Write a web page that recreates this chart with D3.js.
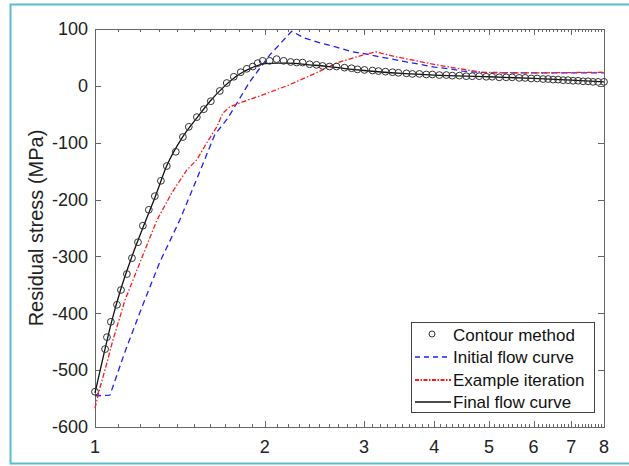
<!DOCTYPE html>
<html>
<head>
<meta charset="utf-8">
<script src="https://cdn.jsdelivr.net/npm/d3@7"></script>
<style>
  body { margin: 0; background: #fff; }
  svg { display: block; font-family: "Liberation Sans", Arial, sans-serif; }
</style>
</head>
<body>
<svg id="chart" width="629" height="466"></svg>
<script>
// contour method measurements
const contourX = [1, 1.042, 1.05, 1.067, 1.094, 1.112, 1.139, 1.163, 1.192, 1.216, 1.246, 1.277,
  1.309, 1.341, 1.391, 1.432, 1.467, 1.516, 1.56, 1.605, 1.665, 1.713, 1.763, 1.814, 1.859,
  1.905, 1.944, 1.984, 2.041, 2.1, 2.161, 2.224, 2.279, 2.335, 2.403, 2.472, 2.534, 2.607,
  2.682, 2.771, 2.852, 2.922, 3.007, 3.107, 3.184, 3.276, 3.371, 3.454, 3.569, 3.657, 3.763,
  3.871, 3.968, 4.083, 4.201, 4.305, 4.43, 4.557, 4.67, 4.805, 4.945, 5.067, 5.214, 5.365,
  5.498, 5.657, 5.797, 5.941, 6.088, 6.238, 6.367, 6.498, 6.632, 6.769, 6.908, 7.051, 7.196,
  7.344, 7.496, 7.65, 7.808, 8];
const contourY = [-538, -463, -442, -415, -385, -359, -331, -303, -275, -246, -218, -194,
  -167, -141, -116, -90, -72, -55, -41, -27, -9, 5, 16, 24, 30,
  34, 40, 44, 44, 47, 44, 42, 41, 41, 38, 37, 35, 34,
  34, 32, 31, 29, 28, 27, 26, 25, 24, 23, 22, 21, 21,
  20, 20, 19, 19, 18, 18, 17, 17, 17, 16, 16, 15, 15,
  15, 14, 14, 13, 13, 12, 12, 11, 11, 10, 10, 9, 9,
  8, 8, 7, 7, 7];

// initial flow curve
const initialX = [1, 1.063, 1.13, 1.216, 1.303, 1.414, 1.534, 1.631, 1.72, 1.881, 2.041, 2.233,
  2.354, 2.523, 2.682, 2.863, 3.031, 3.197, 3.371, 3.569, 3.763, 4, 4.253, 4.484, 4.747, 5.006, 8];
const initialY = [-545, -544, -468, -385, -310, -236, -151, -86, -57, 7, 54, 96,
  84, 75, 68, 60, 56, 51, 47, 42, 38, 33, 30, 26, 24, 23, 23];

// example iteration
const exampleX = [1, 1.021, 1.05, 1.076, 1.107, 1.13, 1.288, 1.369, 1.455, 1.516, 1.579, 1.645,
  1.686, 1.734, 1.829, 1.984, 2.215, 2.472, 2.682, 2.91, 3.145, 3.426, 3.717, 4.033, 4.376,
  4.865, 5.588, 6.393, 8];
const exampleY = [-567, -530, -487, -447, -407, -377, -236, -188, -148, -130, -100, -72,
  -48, -37, -28, -16, 2, 23, 40, 51, 60, 51, 44, 37, 31,
  24, 23, 23, 24];

// final flow curve
const finalX = [1, 1.04, 1.07, 1.11, 1.16, 1.22, 1.28, 1.34, 1.43, 1.52, 1.6, 1.7, 1.8, 1.9,
  2.0, 2.1, 2.2, 2.4, 2.6, 2.8, 3.0, 3.5, 4, 5, 6, 7, 8];
const finalY = [-540, -466, -415, -359, -303, -246, -194, -141, -90, -55, -27, 0, 20, 32,
  39, 40, 40, 37, 34, 30, 27, 22, 19, 16, 13, 10, 7];

const xTicks = [1, 2, 3, 4, 5, 6, 7, 8];
const yTicks = [-600, -500, -400, -300, -200, -100, 0, 100];
const legendLabels = ["Contour method", "Initial flow curve", "Example iteration", "Final flow curve"];

const svg = d3.select("#chart");
const plotL = 95, plotR = 604, plotT = 29, plotB = 427;

// teal frame around the figure
svg.append("path")
  .attr("d", "M629,4.5 H10.5 V463.5 H629")
  .attr("fill", "none")
  .attr("stroke", "#5bbccf")
  .attr("stroke-width", 2);

const x = d3.scaleLog().domain([1, 8]).range([plotL, plotR]);
const y = d3.scaleLinear().domain([-600, 100]).range([plotB, plotT]);

const zip = (xs, ys) => xs.map((v, i) => [v, ys[i]]);
const line = d3.line().x((d) => x(d[0])).y((d) => y(d[1]));

const g = svg.append("g");

// minor x ticks every 0.1
const minor = d3.range(11, 80).map((v) => v / 10).filter((v) => v % 1 !== 0);
const axisColor = "#666";

const tickG = g.append("g").attr("stroke", axisColor).attr("stroke-width", 1);
minor.forEach((v) => {
  const px = Math.round(x(v)) + 0.5;
  tickG.append("line").attr("x1", px).attr("x2", px).attr("y1", plotB).attr("y2", plotB - 3);
  tickG.append("line").attr("x1", px).attr("x2", px).attr("y1", plotT).attr("y2", plotT + 3);
});
xTicks.forEach((v) => {
  const px = Math.round(x(v)) + 0.5;
  tickG.append("line").attr("x1", px).attr("x2", px).attr("y1", plotB).attr("y2", plotB - 6);
  tickG.append("line").attr("x1", px).attr("x2", px).attr("y1", plotT).attr("y2", plotT + 6);
});
yTicks.forEach((v) => {
  const py = Math.round(y(v)) + 0.5;
  tickG.append("line").attr("x1", plotL).attr("x2", plotL + 6).attr("y1", py).attr("y2", py);
  tickG.append("line").attr("x1", plotR).attr("x2", plotR - 6).attr("y1", py).attr("y2", py);
});

g.append("rect")
  .attr("x", plotL + 0.5).attr("y", plotT + 0.5)
  .attr("width", plotR - plotL).attr("height", plotB - plotT)
  .attr("fill", "none").attr("stroke", axisColor);

// tick labels
g.append("g").selectAll("text")
  .data(xTicks).join("text")
  .attr("x", (d) => x(d)).attr("y", 453)
  .attr("text-anchor", "middle")
  .attr("font-size", 18).attr("fill", "#222")
  .text((d) => d);

g.append("g").selectAll("text")
  .data(yTicks).join("text")
  .attr("x", 88).attr("y", (d) => y(d)).attr("dy", "0.35em")
  .attr("text-anchor", "end")
  .attr("font-size", 18).attr("fill", "#222")
  .text((d) => d);

svg.append("text")
  .attr("transform", `translate(43,${(plotT + plotB) / 2}) rotate(-90)`)
  .attr("text-anchor", "middle")
  .attr("font-size", 20).attr("fill", "#222")
  .text("Residual stress (MPa)");

// series
g.append("path").datum(zip(initialX, initialY))
  .attr("d", line).attr("fill", "none")
  .attr("stroke", "#1f1fff").attr("stroke-width", 1.3)
  .attr("stroke-dasharray", "6,4");

g.append("path").datum(zip(exampleX, exampleY))
  .attr("d", line).attr("fill", "none")
  .attr("stroke", "#ff1a1a").attr("stroke-width", 1.3)
  .attr("stroke-dasharray", "5,2,1.5,2");

g.append("path").datum(zip(finalX, finalY))
  .attr("d", line.curve(d3.curveMonotoneX)).attr("fill", "none")
  .attr("stroke", "#111").attr("stroke-width", 1.3);

g.append("g").selectAll("circle")
  .data(zip(contourX, contourY)).join("circle")
  .attr("cx", (d) => x(d[0])).attr("cy", (d) => y(d[1]))
  .attr("r", 3.4)
  .attr("fill", "none").attr("stroke", "#333").attr("stroke-width", 1);

// legend
const lg = svg.append("g");
lg.append("rect")
  .attr("x", 411.5).attr("y", 322.5).attr("width", 183).attr("height", 90)
  .attr("fill", "#fff").attr("stroke", "#444");
const rows = [335, 357, 380, 402];
const styles = [
  null,
  { stroke: "#1f1fff", dash: "5,4" },
  { stroke: "#ff1a1a", dash: "4,1.5,1.5,1.5", width: 2 },
  { stroke: "#111", dash: null }
];
legendLabels.forEach((label, i) => {
  const ry = rows[i];
  if (i === 0) {
    lg.append("circle").attr("cx", 432).attr("cy", ry - 1).attr("r", 3)
      .attr("fill", "none").attr("stroke", "#333");
  } else {
    lg.append("line").attr("x1", 415).attr("x2", 451).attr("y1", ry).attr("y2", ry)
      .attr("stroke", styles[i].stroke)
      .attr("stroke-width", styles[i].width || 1.3)
      .attr("stroke-dasharray", styles[i].dash);
  }
  lg.append("text")
    .attr("x", 453).attr("y", ry).attr("dy", "0.35em")
    .attr("font-size", 17).attr("fill", "#111")
    .text(label);
});
</script>
</body>
</html>
